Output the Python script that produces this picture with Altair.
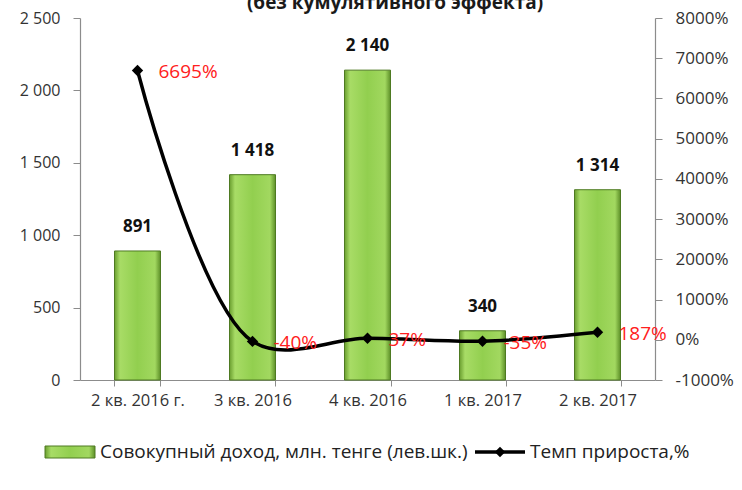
import altair as alt
import pandas as pd

categories = ["2 кв. 2016 г.", "3 кв. 2016", "4 кв. 2016", "1 кв. 2017", "2 кв. 2017"]
income = [891, 1418, 2140, 340, 1314]
growth = [6695, -40, 37, -35, 187]

df = pd.DataFrame({"cat": categories, "income": income, "growth": growth})
legend_df = pd.DataFrame({"k": [0]})

FONT = "Open Sans"
x_enc = alt.X("cat:N", sort=categories, title=None,
              scale=alt.Scale(paddingInner=0.6, paddingOuter=0.3),
              axis=alt.Axis(labelAngle=0, labelFontSize=16.5, labelFont=FONT, labelColor="#333333",
                            domainColor="#8c8c8c", tickColor="#8c8c8c", tickBand="extent",
                            tickSize=6, labelPadding=6, domainWidth=1.2))

y_left = alt.Scale(domain=[0, 2500])
y_right = alt.Scale(domain=[-1000, 8000])

bar_grad = alt.Gradient(gradient="linear", x1=0, x2=1, y1=0, y2=0,
                        stops=[alt.GradientStop(offset=0, color="#6a9e2f"),
                               alt.GradientStop(offset=0.12, color="#a8dc66"),
                               alt.GradientStop(offset=0.5, color="#92cf4f"),
                               alt.GradientStop(offset=0.88, color="#a2d860"),
                               alt.GradientStop(offset=1, color="#5d8f28")])

bars = alt.Chart(df).mark_bar(color=bar_grad, stroke="#4e7a22", strokeWidth=1).encode(
    x=x_enc,
    y=alt.Y("income:Q", scale=y_left, title=None,
            axis=alt.Axis(values=[0, 500, 1000, 1500, 2000, 2500], grid=False,
                          labelExpr="replace(format(datum.value, ','), ',', ' ')",
                          labelFontSize=16, labelFont=FONT, labelColor="#333333",
                          domainColor="#8c8c8c", tickColor="#8c8c8c", tickSize=7,
                          labelPadding=13, domainWidth=1.2)),
)

bar_text = alt.Chart(df).transform_calculate(
    lbl="replace(format(datum.income, ','), ',', ' ')"
).mark_text(fontWeight="bold", fontSize=17, font=FONT, color="#111111", dy=-24).encode(
    x=alt.X("cat:N", sort=categories),
    y=alt.Y("income:Q", scale=y_left, axis=None),
    text="lbl:N",
)

line = alt.Chart(df).mark_line(interpolate="catmull-rom", color="#000000", strokeWidth=3.5).encode(
    x=alt.X("cat:N", sort=categories),
    y=alt.Y("growth:Q", scale=y_right, title=None,
            axis=alt.Axis(orient="right", values=list(range(-1000, 8001, 1000)), grid=False,
                          labelExpr="datum.value + '%'",
                          labelFontSize=17, labelFont=FONT, labelColor="#333333",
                          domainColor="#8c8c8c", tickColor="#8c8c8c", tickSize=7,
                          labelPadding=13, domainWidth=1.2)),
)

points = alt.Chart(df).mark_point(shape="diamond", filled=True, color="#000000", size=130, opacity=1).encode(
    x=alt.X("cat:N", sort=categories),
    y=alt.Y("growth:Q", scale=y_right, axis=None),
)

line_text = alt.Chart(df).transform_calculate(
    lbl="datum.growth + '%'"
).mark_text(color="#ff2020", fontSize=19, font=FONT, align="left", baseline="middle", dx=21, dy=2).encode(
    x=alt.X("cat:N", sort=categories),
    y=alt.Y("growth:Q", scale=y_right, axis=None),
    text="lbl:N",
)

title = alt.Chart(legend_df).mark_text(
    text="(без кумулятивного эффекта)", fontWeight="bold", fontSize=19, font=FONT,
    color="#1a1a1a", align="center", baseline="alphabetic"
).encode(x=alt.value(315), y=alt.value(-9))

leg_rect = alt.Chart(legend_df).mark_rect(color=bar_grad, stroke="#4e7a22", strokeWidth=1).encode(
    x=alt.value(-35), x2=alt.value(15), y=alt.value(428), y2=alt.value(440))
leg_text1 = alt.Chart(legend_df).mark_text(
    text="Совокупный доход, млн. тенге (лев.шк.)", fontSize=19, font=FONT, color="#222222",
    align="left", baseline="middle").encode(x=alt.value(20), y=alt.value(434))
leg_line = alt.Chart(legend_df).mark_rule(color="#000000", strokeWidth=3.5).encode(
    x=alt.value(395), x2=alt.value(445), y=alt.value(434))
leg_pt = alt.Chart(legend_df).mark_point(shape="diamond", filled=True, color="#000000", size=110, opacity=1).encode(
    x=alt.value(420), y=alt.value(434))
leg_text2 = alt.Chart(legend_df).mark_text(
    text="Темп прироста,%", fontSize=19, font=FONT, color="#222222",
    align="left", baseline="middle").encode(x=alt.value(450), y=alt.value(434))

chart = alt.layer(
    bars, bar_text, line, points, line_text, title,
    leg_rect, leg_text1, leg_line, leg_pt, leg_text2
).resolve_scale(y="independent").properties(
    width=575, height=362,
    padding={"left": 80, "top": 18, "right": 87, "bottom": 110},
    autosize=alt.AutoSizeParams(type="none"),
    background="#ffffff",
).configure_view(stroke=None)

chart.save("out.html", embed_options={"renderer": "svg", "actions": False})
